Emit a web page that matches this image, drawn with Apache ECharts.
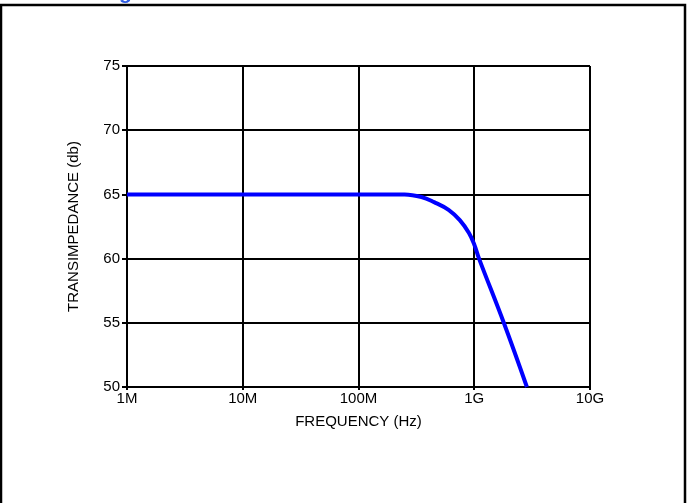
<!DOCTYPE html>
<html>
<head>
<meta charset="utf-8">
<script src="https://cdn.jsdelivr.net/npm/echarts@6/dist/echarts.min.js"></script>
<style>
  html, body { margin: 0; padding: 0; background: #fff; }
  #chart { width: 689px; height: 503px; }
</style>
</head>
<body>
<div id="chart"></div>
<script>
// frequency (Hz) and transimpedance (dB)
var freq = [1e6, 1e7, 1e8, 2.5e8, 3.5e8, 4.5e8, 6e8, 7.5e8, 9e8, 1e9, 1.1e9, 1.8e9, 2.85e9];
var gain = [65, 65, 65, 65, 64.8, 64.4, 63.8, 63.0, 62.0, 61.1, 60, 55, 50];
var freqLabels = { 1e6: '1M', 1e7: '10M', 1e8: '100M', 1e9: '1G', 1e10: '10G' };

var points = freq.map(function (f, i) { return [f, gain[i]]; });

var chart = echarts.init(document.getElementById('chart'));
var font = 'Arial, "Liberation Sans", sans-serif';

chart.setOption({
  animation: false,
  backgroundColor: '#fff',
  textStyle: { fontFamily: font, color: '#000' },
  grid: { left: 127, right: 99, top: 66, bottom: 116 },
  graphic: [
    {
      type: 'rect',
      shape: { x: 1, y: 5, width: 684, height: 520 },
      style: { fill: 'none', stroke: '#000', lineWidth: 2.5 }
    },
    {
      type: 'text',
      left: 119, top: -17,
      style: { text: 'g', fill: '#2d5be3', font: 'bold 21px ' + font }
    }
  ],
  xAxis: {
    type: 'log',
    logBase: 10,
    min: 1e6,
    max: 1e10,
    name: 'FREQUENCY (Hz)',
    nameLocation: 'middle',
    nameGap: 27,
    nameTextStyle: { fontSize: 15, color: '#000', fontFamily: font, verticalAlign: 'top' },
    axisLine: { lineStyle: { color: '#000', width: 2 } },
    axisTick: { show: true, length: 3, lineStyle: { color: '#000', width: 2 } },
    axisLabel: {
      color: '#000', fontSize: 15, fontFamily: font, margin: 4,
      formatter: function (v) { return freqLabels[Math.round(v)] || ''; }
    },
    splitLine: { show: true, lineStyle: { color: '#000', width: 2 } }
  },
  yAxis: {
    type: 'value',
    min: 50,
    max: 75,
    interval: 5,
    name: 'TRANSIMPEDANCE (db)',
    nameLocation: 'middle',
    nameGap: 46,
    nameRotate: 90,
    nameTextStyle: { fontSize: 15, color: '#000', fontFamily: font },
    axisLine: { show: true, lineStyle: { color: '#000', width: 2 } },
    axisTick: { show: true, length: 5, lineStyle: { color: '#000', width: 2 } },
    axisLabel: { color: '#000', fontSize: 15, fontFamily: font, margin: 7, padding: [0, 0, 4, 0] },
    splitLine: { show: true, lineStyle: { color: '#000', width: 2 } }
  },
  series: [
    {
      type: 'line',
      data: points,
      smooth: 0.4,
      showSymbol: false,
      lineStyle: { color: '#0000ff', width: 4 },
      clip: true
    }
  ]
});
</script>
</body>
</html>
